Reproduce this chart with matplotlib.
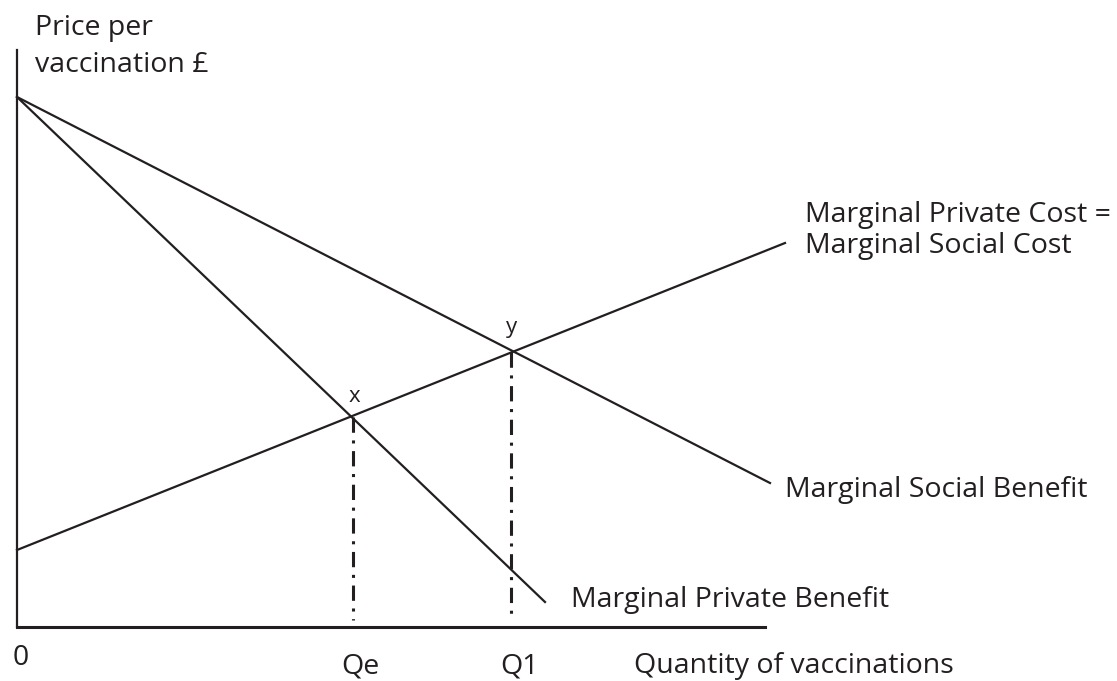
import matplotlib.pyplot as plt

# quantity / price values (chart units, origin at the axes corner)
axis_q_max = 748
axis_p_max = 577

mpb_q = [0, 528]
mpb_p = [530, 25]
msb_q = [0, 753]
msb_p = [530, 144]
mpc_q = [0, 768]
mpc_p = [77, 384]

qe, pe = 336, 210
q1, p1 = 494, 275

font = ["Open Sans", "DejaVu Sans"]
fs = 20.5
ink = "#231f20"


def py(pix):
    # convert a pixel row of the picture to chart units
    return 627 - pix


fig = plt.figure(figsize=(11.17, 6.81), dpi=100)
ax = fig.add_axes([0, 0, 1, 1])
ax.set_xlim(-17, 1100)
ax.set_ylim(-54, 627)
ax.axis("off")

lw = 1.6
# axes
ax.plot([0, 0], [0, axis_p_max], color=ink, lw=lw)
ax.plot([0, axis_q_max], [0, 0], color=ink, lw=2.2)

# curves
ax.plot(mpb_q, mpb_p, color=ink, lw=lw)
ax.plot(msb_q, msb_p, color=ink, lw=lw)
ax.plot(mpc_q, mpc_p, color=ink, lw=lw)

# dash-dot guides
for q, p in [(qe, pe), (q1, p1)]:
    ax.plot([q, q], [p, 7], color=ink, lw=2.2,
            linestyle=(0, (5, 2.5, 1, 2.5)))

labels = [
    (18, 35, "Price per"),
    (18, 72, "vaccination £"),
    (788, 222, "Marginal Private Cost ="),
    (788, 253, "Marginal Social Cost"),
    (768, 497, "Marginal Social Benefit"),
    (554, 607, "Marginal Private Benefit"),
    (617, 673, "Quantity of vaccinations"),
]
for x, y, s in labels:
    ax.text(x, py(y), s, fontsize=fs, family=font, va="baseline", ha="left", color=ink)

ax.text(qe + 1, py(402), "x", fontsize=16, family=font, va="baseline", ha="center", color=ink)
ax.text(q1 + 1, py(333), "y", fontsize=16, family=font, va="baseline", ha="center", color=ink)

ax.text(4, py(665), "0", fontsize=fs, family=font, va="baseline", ha="center", color=ink)
ax.text(qe + 7, py(673), "Qe", fontsize=fs, family=font, va="baseline", ha="center", color=ink)
ax.text(q1 + 8, py(673), "Q1", fontsize=fs, family=font, va="baseline", ha="center", color=ink)

fig.savefig("out.png", dpi=100)
